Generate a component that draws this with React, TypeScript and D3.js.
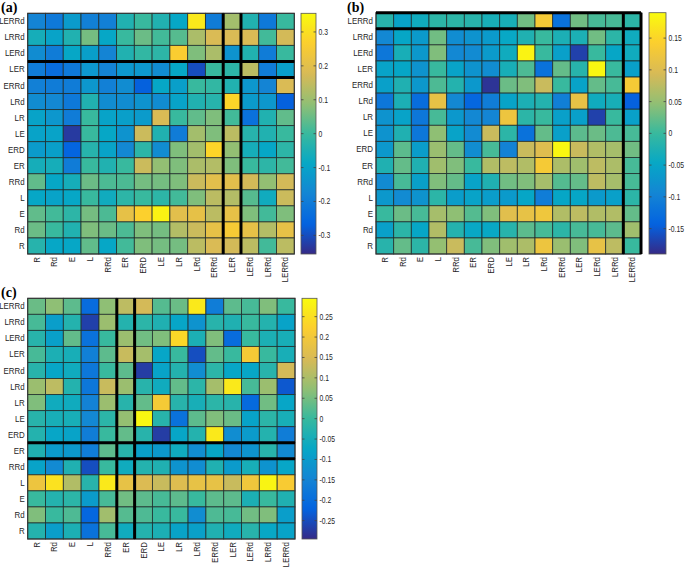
import React from 'react';
import * as d3 from 'd3';

const rowLabels = ['LERRd', 'LRRd', 'LERd', 'LER', 'ERRd', 'LRd', 'LR', 'LE', 'ERD', 'ER', 'RRd', 'L', 'E', 'Rd', 'R'];
const colLabels = ['R', 'Rd', 'E', 'L', 'RRd', 'ER', 'ERD', 'LE', 'LR', 'LRd', 'ERRd', 'LER', 'LERd', 'LRRd', 'LERRd'];

// Panel (a) values, rows top->bottom as rowLabels, columns as colLabels
const valuesA = [
  [-0.18, -0.21, -0.12, -0.19, -0.19, -0.04, 0.0, -0.04, -0.09, 0.32, -0.2, 0.11, -0.04, -0.21, 0.0],
  [-0.06, -0.1, -0.04, 0.06, -0.09, 0.0, 0.05, 0.01, 0.03, 0.12, 0.18, 0.18, 0.18, 0.01, 0.17],
  [-0.16, -0.2, -0.09, -0.11, -0.18, -0.04, -0.01, -0.02, 0.26, 0.07, 0.12, -0.14, -0.04, -0.2, 0.0],
  [-0.2, -0.24, -0.21, -0.13, -0.18, -0.13, -0.13, -0.16, -0.09, -0.3, 0.0, -0.02, 0.14, -0.2, -0.11],
  [-0.19, -0.2, -0.2, -0.13, -0.19, -0.16, -0.27, -0.09, -0.11, 0.0, -0.01, -0.04, -0.13, -0.18, 0.18],
  [-0.16, -0.17, -0.21, -0.04, -0.16, -0.16, -0.14, -0.16, -0.1, -0.04, -0.03, 0.28, -0.12, -0.13, -0.27],
  [-0.1, -0.13, -0.2, 0.0, -0.1, -0.11, -0.12, 0.18, 0.0, 0.04, 0.07, 0.01, -0.23, -0.04, 0.04],
  [-0.1, -0.1, -0.33, 0.0, -0.09, -0.14, 0.16, -0.04, -0.2, 0.11, 0.07, 0.14, -0.03, -0.04, 0.0],
  [-0.12, -0.11, -0.26, -0.03, -0.1, -0.17, -0.02, -0.16, 0.07, 0.11, 0.28, 0.09, -0.06, -0.09, -0.02],
  [-0.06, -0.06, -0.2, 0.0, -0.04, 0.0, 0.16, 0.09, 0.07, 0.12, 0.13, 0.07, 0.0, -0.02, 0.01],
  [0.04, -0.09, -0.06, 0.05, 0.02, 0.02, 0.06, 0.06, 0.07, 0.16, 0.2, 0.2, 0.17, 0.09, 0.17],
  [-0.09, -0.1, -0.09, 0.0, -0.07, -0.02, 0.0, -0.02, 0.01, 0.07, 0.14, 0.13, 0.03, -0.07, 0.16],
  [0.04, 0.01, -0.02, 0.06, 0.02, 0.21, 0.27, 0.34, 0.2, 0.21, 0.14, 0.21, 0.07, 0.01, 0.07],
  [0.05, 0.0, -0.04, 0.07, 0.05, 0.02, 0.07, 0.06, 0.13, 0.16, 0.21, 0.25, 0.21, 0.13, 0.21],
  [-0.03, -0.09, -0.09, 0.04, -0.09, 0.01, 0.07, 0.06, 0.06, 0.14, 0.18, 0.17, 0.14, 0.01, 0.14],
];

const valuesB = [
  [-0.015, -0.053, -0.038, -0.011, -0.011, -0.015, -0.03, -0.03, 0.03, 0.133, -0.122, 0.03, 0.008, 0.008, -0.011],
  [-0.091, -0.049, -0.065, 0.03, -0.084, -0.076, -0.065, -0.046, -0.023, 0, -0.027, -0.027, 0.03, -0.011, -0.038],
  [-0.114, -0.03, -0.068, 0.038, -0.091, -0.087, -0.065, -0.038, 0.182, 0, -0.057, -0.171, 0, -0.049, -0.038],
  [-0.053, -0.049, -0.076, 0, -0.053, -0.076, -0.084, -0.03, 0.011, -0.122, 0.023, -0.015, 0.186, 0, -0.057],
  [-0.057, -0.023, -0.068, 0.011, -0.019, -0.068, -0.182, 0.027, 0.038, 0.084, 0, -0.053, 0.023, 0.008, 0.133],
  [-0.114, -0.027, -0.129, 0.114, -0.091, -0.137, -0.106, -0.053, -0.027, -0.019, -0.103, 0.114, -0.038, -0.03, -0.144],
  [-0.076, -0.053, -0.114, 0.008, -0.068, -0.091, -0.095, 0.122, -0.011, 0, -0.057, -0.057, -0.171, 0, -0.057],
  [-0.076, -0.023, -0.114, 0.046, -0.053, -0.087, 0.084, -0.011, -0.122, 0.023, -0.057, 0.019, 0.027, 0.011, 0.008],
  [-0.068, 0.019, -0.061, 0.053, 0.023, -0.084, 0.008, -0.099, 0.084, 0.103, 0.186, 0.084, 0.068, 0.061, 0.03],
  [-0.023, 0.023, -0.023, 0.057, 0.038, 0, 0.068, 0.076, 0.068, 0.133, 0.065, 0.057, 0.076, 0.065, 0.008],
  [-0.087, 0.008, -0.057, 0.038, 0.023, -0.053, -0.023, 0.03, 0.038, 0.061, 0.015, 0.023, 0.076, 0.061, 0.008],
  [-0.068, -0.087, -0.076, -0.011, -0.061, -0.053, -0.061, -0.065, -0.049, -0.106, -0.049, -0.049, -0.065, -0.057, -0.011],
  [0, 0.027, 0.008, 0.061, 0.046, 0.015, 0.038, 0.106, 0.114, 0.125, 0.068, 0.076, 0.068, 0.068, 0.023],
  [-0.057, -0.011, -0.049, 0.068, -0.019, -0.046, -0.046, -0.015, 0.019, 0.008, -0.011, 0.008, 0.008, 0.019, 0.057],
  [-0.015, 0.023, -0.011, 0.049, 0.084, 0.008, 0.038, 0.057, 0.065, 0.122, 0.053, 0.038, 0.114, 0.076, 0],
];

const valuesC = [
  [0.041, 0.071, 0.03, -0.201, 0.071, 0.118, 0.142, 0.024, 0.041, 0.266, -0.165, 0.03, 0.012, 0.059, 0],
  [0.012, -0.094, -0.03, -0.266, 0.083, -0.03, -0.018, -0.035, -0.077, -0.118, -0.024, -0.035, 0, -0.03, -0.083],
  [-0.024, -0.089, 0.035, -0.189, 0, 0.083, 0.047, 0.059, 0.236, -0.041, 0.059, -0.201, 0, -0.041, -0.047],
  [0.012, -0.041, -0.047, -0.159, 0.03, 0.13, 0.094, -0.077, 0, -0.248, 0.035, 0, 0.207, 0, -0.047],
  [-0.024, -0.077, -0.059, -0.177, 0, 0.03, -0.271, -0.083, -0.03, -0.13, -0.018, -0.077, -0.077, -0.024, 0.142],
  [0.083, 0.118, -0.03, -0.177, 0.13, 0.083, -0.024, -0.059, 0.035, -0.018, 0.094, 0.266, 0.012, 0.083, -0.236],
  [0.059, -0.059, -0.059, -0.153, 0.083, -0.024, 0.035, 0.207, -0.024, -0.047, -0.018, -0.024, -0.207, 0.047, -0.077],
  [-0.024, -0.047, -0.047, -0.142, -0.018, 0.077, 0.289, -0.024, -0.189, 0.03, 0.059, 0.041, -0.083, -0.018, -0.047],
  [-0.03, -0.077, -0.083, -0.165, 0, 0.035, -0.024, -0.271, -0.077, -0.03, 0.266, -0.13, -0.1, -0.03, -0.165],
  [-0.035, -0.1, -0.106, -0.165, 0.03, -0.024, -0.089, -0.106, -0.059, -0.13, -0.077, -0.142, -0.118, -0.024, -0.136],
  [-0.083, -0.136, -0.035, -0.248, 0, -0.059, -0.03, -0.035, -0.118, -0.13, -0.035, -0.1, -0.047, -0.118, -0.077],
  [0.189, 0.254, 0.106, -0.024, 0.266, 0.177, 0.153, 0.13, 0.159, 0.177, 0.177, 0.13, 0.195, 0.283, 0.212],
  [0, -0.03, -0.018, -0.1, 0.012, 0.047, 0.03, 0.012, 0.03, 0, 0.03, 0.03, -0.041, 0, -0.035],
  [0.059, 0, 0.018, -0.212, 0.089, 0.024, 0.018, 0, 0, -0.13, 0.018, 0.012, 0.047, 0.059, -0.094],
  [-0.03, -0.094, -0.041, -0.189, 0.012, -0.059, -0.03, -0.041, -0.083, -0.089, -0.035, -0.059, -0.024, -0.071, -0.083],
];

const ticksA = [-0.3, -0.2, -0.1, 0, 0.1, 0.2, 0.3];
const ticksB = [-0.15, -0.1, -0.05, 0, 0.05, 0.1, 0.15];
const ticksC = [-0.25, -0.2, -0.15, -0.1, -0.05, 0, 0.05, 0.1, 0.15, 0.2, 0.25];

const rangeA = 0.355;
const rangeB = 0.19;
const rangeC = 0.295;

const parulaColors = ['#352a87', '#0363e1', '#1485d4', '#06a7c6', '#38b99e', '#92bf73', '#d9ba56', '#fcce2e', '#f9fb0e'];
const parula = d3.piecewise(d3.interpolateRgb, parulaColors);

const FONT = '"Liberation Sans", Arial, sans-serif';
const TXT = '#262626';

type PanelProps = {
  id: string;
  label: string;
  values: number[][];
  range: number;
  ticks: number[];
  hlRow: string;
  hlCol: string;
  x0: number; x1: number; y0: number; y1: number;
  cb0: number; cb1: number;
  lx: number; ly: number;
};

function Panel(p: PanelProps) {
  const x = d3.scaleBand<string>().domain(colLabels).range([p.x0, p.x1]);
  const y = d3.scaleBand<string>().domain(rowLabels).range([p.y0, p.y1]);
  const color = d3.scaleSequential(parula).domain([-p.range, p.range]);
  const cb = d3.scaleLinear().domain([-p.range, p.range]).range([p.y1, p.y0]);
  const bw = x.bandwidth();
  const bh = y.bandwidth();
  const stops = d3.range(0, 1.0001, 0.02);
  const gid = 'grad-' + p.id;
  const hx0 = x(p.hlCol)!;
  const hy0 = y(p.hlRow)!;
  return (
    <g>
      <defs>
        <linearGradient id={gid} x1="0" y1="1" x2="0" y2="0">
          {stops.map((s) => (
            <stop key={s} offset={s} stopColor={parula(s)} />
          ))}
        </linearGradient>
      </defs>
      <text x={p.lx} y={p.ly} fontFamily='"Liberation Serif", "Times New Roman", serif' fontWeight="bold" fontSize={14} fill="#000">
        {p.label}
      </text>
      {p.values.map((row, ri) =>
        row.map((v, ci) => (
          <rect
            key={ri + '-' + ci}
            x={x(colLabels[ci])}
            y={y(rowLabels[ri])}
            width={bw}
            height={bh}
            fill={color(v)}
            stroke="#1e2a2a"
            strokeOpacity={0.85}
            strokeWidth={0.9}
          />
        ))
      )}
      <rect x={p.x0} y={p.y0} width={p.x1 - p.x0} height={p.y1 - p.y0} fill="none" stroke="#333" strokeWidth={1} />
      {/* highlight lines */}
      <g stroke="#000" strokeWidth={3}>
        <line x1={p.x0} x2={p.x1} y1={hy0} y2={hy0} />
        <line x1={p.x0} x2={p.x1} y1={hy0 + bh} y2={hy0 + bh} />
        <line x1={hx0} x2={hx0} y1={p.y0} y2={p.y1} />
        <line x1={hx0 + bw} x2={hx0 + bw} y1={p.y0} y2={p.y1} />
      </g>
      {rowLabels.map((r) => (
        <text
          key={'r' + r}
          transform={`translate(${p.x0 - 3},${y(r)! + bh / 2 + 3}) scale(0.88,1)`}
          textAnchor="end"
          fontFamily={FONT}
          fontSize={9}
          fill={TXT}
        >
          {r}
        </text>
      ))}
      {colLabels.map((c) => (
        <text
          key={'c' + c}
          transform={`translate(${x(c)! + bw / 2 + 3},${p.y1 + 3}) rotate(-90) scale(0.88,1)`}
          textAnchor="end"
          fontFamily={FONT}
          fontSize={9}
          fill={TXT}
        >
          {c}
        </text>
      ))}
      {/* colorbar */}
      <rect x={p.cb0} y={p.y0} width={p.cb1 - p.cb0} height={p.y1 - p.y0} fill={`url(#${gid})`} stroke="#555" strokeWidth={0.8} />
      {p.ticks.map((t) => (
        <g key={'t' + t}>
          <line x1={p.cb1 - 2.5} x2={p.cb1} y1={cb(t)} y2={cb(t)} stroke="#444" strokeWidth={0.8} />
          <line x1={p.cb0} x2={p.cb0 + 2.5} y1={cb(t)} y2={cb(t)} stroke="#444" strokeWidth={0.8} />
          <text
            transform={`translate(${p.cb1 + 2.5},${cb(t) + 3}) scale(0.8,1)`}
            fontFamily={FONT}
            fontSize={8.5}
            fill={TXT}
          >
            {String(t)}
          </text>
        </g>
      ))}
    </g>
  );
}

export default function App() {
  return (
    <svg
      width={685}
      height={567}
      viewBox="0 0 685 567"
      style={{ position: 'absolute', left: 0, top: 0, background: '#fff', display: 'block' }}
    >
      <rect x={0} y={0} width={685} height={567} fill="#fff" />
      <Panel
        id="a" label="(a)" values={valuesA} range={rangeA} ticks={ticksA}
        hlRow="LER" hlCol="LER"
        x0={27.7} x1={294.3} y0={13.3} y1={254}
        cb0={301} cb1={316} lx={1} ly={12}
      />
      <Panel
        id="b" label="(b)" values={valuesB} range={rangeB} ticks={ticksB}
        hlRow="LERRd" hlCol="LERRd"
        x0={376} x1={641} y0={12.7} y1={254}
        cb0={649} cb1={666} lx={347} ly={12}
      />
      <Panel
        id="c" label="(c)" values={valuesC} range={rangeC} ticks={ticksC}
        hlRow="ER" hlCol="ER"
        x0={27.7} x1={295} y0={298.3} y1={539}
        cb0={302} cb1={317} lx={1} ly={297}
      />
    </svg>
  );
}
